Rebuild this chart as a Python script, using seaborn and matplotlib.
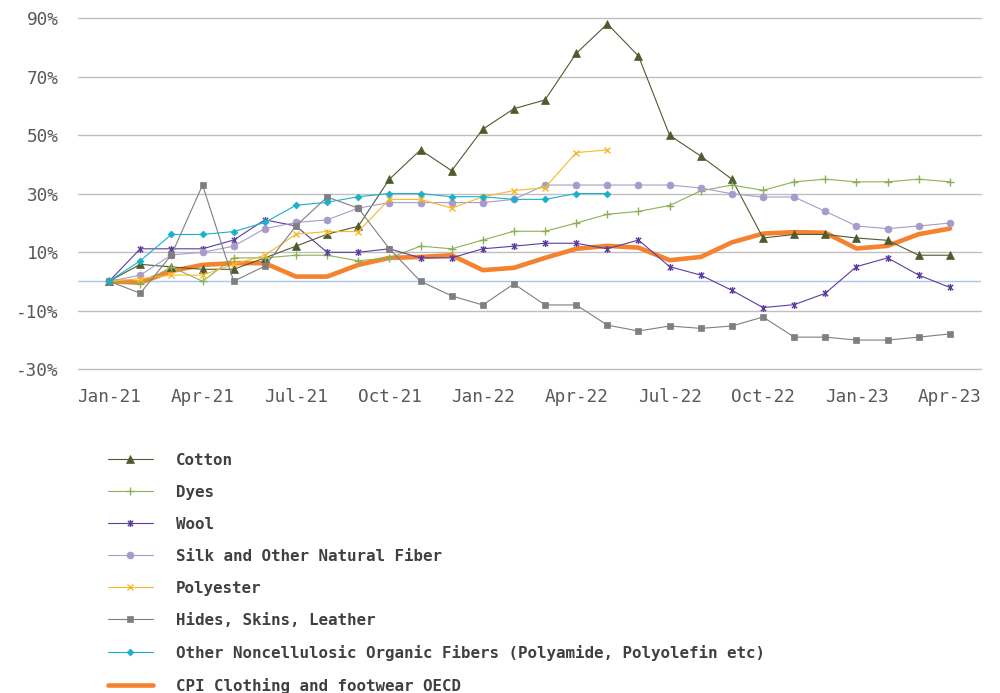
import numpy as np
import pandas as pd
import matplotlib
matplotlib.use("Agg")
import matplotlib.pyplot as plt
from matplotlib.path import Path
import seaborn as sns

# Monthly year-on-year change (%) from Jan-21 to Apr-23
months = pd.date_range("2021-01-01", "2023-04-01", freq="MS")
tick_labels = ["Jan-21", "Apr-21", "Jul-21", "Oct-21", "Jan-22",
               "Apr-22", "Jul-22", "Oct-22", "Jan-23", "Apr-23"]

cotton = [0, 5.8, 4.9, 4.1, 4.1, 8.0, 12.0, 16.1, 18.8, 34.9, 44.9, 37.8, 52.0, 59.0,
          62.0, 77.9, 88.0, 77.0, 49.9, 42.8, 34.9, 14.8, 16.0, 16.0, 14.8, 14.0, 8.9, 8.9]
dyes = [0, -1.0, 4.9, 0, 8.0, 8.0, 8.9, 8.9, 7.0, 8.0, 12.0, 11.1, 14.1, 17.1,
        17.1, 19.9, 22.9, 23.9, 25.9, 30.9, 32.9, 31.1, 34.0, 34.9, 34.0, 34.0, 34.9, 34.0]
wool = [0, 11.1, 11.1, 11.1, 14.1, 21.0, 18.9, 9.9, 9.9, 11.1, 8.0, 8.0, 11.1, 12.0,
        13.0, 13.0, 11.1, 14.1, 5.0, 2.1, -3.1, -9.0, -8.0, -4.1, 5.0, 8.0, 2.1, -2.1]
silk = [0, 2.1, 9.0, 9.9, 12.0, 18.0, 20.1, 21.0, 25.0, 26.9, 26.9, 26.9, 26.9, 28.0,
        32.9, 32.9, 32.9, 32.9, 32.9, 31.9, 29.9, 28.8, 28.8, 23.9, 18.9, 18.0, 18.9, 19.9]
polyester = [0, 0.9, 2.1, 2.1, 5.8, 8.9, 16.1, 17.0, 17.0, 28.0, 28.0, 25.0, 28.9, 31.0,
             32.0, 44.0, 44.9] + [np.nan] * 11
hides = [0, -4.1, 9.0, 32.9, 0, 5.2, 18.9, 28.8, 25.0, 11.1, 0, -5.0, -8.1, -0.9,
         -8.1, -8.1, -15.0, -17.0, -15.3, -16.1, -15.3, -12.2, -19.1, -19.1, -20.1, -20.1, -19.1, -18.0]
other_fibers = [0, 7.0, 16.0, 16.0, 17.0, 20.1, 26.0, 27.0, 28.9, 30.0, 30.0, 28.9, 28.9, 28.0,
                28.0, 30.0, 30.0] + [np.nan] * 11
cpi = [0, -0.5, 3.5, 5.6, 6.2, 6.2, 1.6, 1.6, 5.6, 8.0, 8.3, 8.9, 3.8, 4.6,
       8.0, 11.1, 12.1, 11.5, 7.2, 8.3, 13.3, 16.3, 16.8, 16.6, 11.2, 12.1, 16.1, 18.0]

# star marker: an "x" with a vertical stroke through it
star = Path([(-1, -1), (1, 1), (-1, 1), (1, -1), (0, -1.3), (0, 1.3)],
            [Path.MOVETO, Path.LINETO, Path.MOVETO, Path.LINETO, Path.MOVETO, Path.LINETO])

series = [
    ("Cotton", cotton, "#4F5B2F", "^", 0.8, 5.5),
    ("Dyes", dyes, "#8DB055", "+", 0.8, 6),
    ("Wool", wool, "#5B3C9E", star, 0.8, 5),
    ("Silk and Other Natural Fiber", silk, "#A89BCB", "o", 0.8, 5),
    ("Polyester", polyester, "#F6B928", "x", 0.8, 5),
    ("Hides, Skins, Leather", hides, "#7F7F80", "s", 0.8, 5),
    ("Other Noncellulosic Organic Fibers (Polyamide, Polyolefin etc)", other_fibers,
     "#1AAFCB", "D", 0.8, 3.5),
    ("CPI Clothing and footwear OECD", cpi, "#F5822F", None, 3.3, 0),
]

sns.set_theme(style="white")
plt.rcParams["font.family"] = ["DejaVu Sans Mono", "DejaVu Sans"]

fig = plt.figure(figsize=(10, 6.93), dpi=100)
ax = fig.add_axes([0.078, 0.4675, 0.903, 0.5065])

idx = np.arange(len(months))
for name, vals, color, marker, lw, ms in series:
    df = pd.DataFrame({"m": idx, "v": vals})
    z = 2 if marker is None else 3
    sns.lineplot(data=df, x="m", y="v", ax=ax, color=color, linewidth=lw,
                 marker=marker, markersize=ms, markeredgecolor=color,
                 markeredgewidth=1.0 if isinstance(marker, Path) or marker in ("x", "+") else 0.5,
                 label=name, zorder=z, legend=False)

ax.set_xlim(-1, len(months))
ax.set_ylim(-30, 90)
ax.set_yticks(np.arange(-30, 91, 20))
ax.set_yticklabels([f"{v}%" for v in range(-30, 91, 20)])
ax.set_xticks(idx[::3])
ax.set_xticklabels(tick_labels)
ax.set_xlabel("")
ax.set_ylabel("")

for v in range(-30, 91, 20):
    ax.axhline(v, color="#BFBFBF", linewidth=1.0, zorder=0, clip_on=False)
ax.axhline(0, color="#A9C6EC", linewidth=1.0, zorder=1)

for s in ax.spines.values():
    s.set_visible(False)
ax.tick_params(axis="both", length=0, labelsize=12.8, colors="#595959")
ax.tick_params(axis="y", pad=14)
ax.tick_params(axis="x", pad=14)

handles, labels = ax.get_legend_handles_labels()
leg = fig.legend(handles, labels, loc="upper left", bbox_to_anchor=(0.108, 0.347),
                 frameon=False, ncol=1, handlelength=2.8, handletextpad=1.45,
                 labelspacing=1.07, borderpad=0, borderaxespad=0,
                 prop={"size": 11.45, "weight": "bold"})
for t in leg.get_texts():
    t.set_color("#404040")

fig.savefig("out.png", dpi=100)
